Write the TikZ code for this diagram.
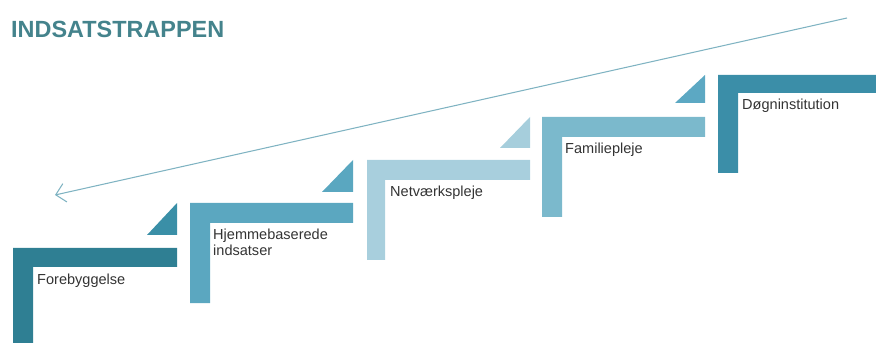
\documentclass[tikz,border=0pt]{standalone}
\usepackage{fontspec}
\setmainfont{Liberation Sans}
\usetikzlibrary{arrows.meta}

\definecolor{stepA}{HTML}{2F7F93}
\definecolor{stepB}{HTML}{5BA7C0}
\definecolor{stepC}{HTML}{A8CFDD}
\definecolor{stepD}{HTML}{7BB9CC}
\definecolor{stepE}{HTML}{3B8EA8}
\definecolor{triA}{HTML}{3A8FA7}
\definecolor{triB}{HTML}{5AA7C0}
\definecolor{triC}{HTML}{A6CEDC}
\definecolor{triD}{HTML}{5CA8C3}
\definecolor{titlecol}{HTML}{44838C}
\definecolor{arrowcol}{HTML}{7FB3C2}

\begin{document}
\begin{tikzpicture}[
  x=0.3mm, y=-0.3mm,
  steplabel/.style={anchor=north west, inner sep=0pt, align=left, text=black!80, font=\fontsize{12.4}{13.6}\selectfont},
  title/.style={anchor=west, inner sep=0pt, text=titlecol, font=\fontsize{20}{22}\selectfont\bfseries},
  trend/.style={-{Straight Barb[length=8pt, width=16pt]}, draw=arrowcol, line width=0.9pt}
]
\useasboundingbox (0,0) rectangle (876,343);

\node[title] (head) at (11,29) {INDSATSTRAPPEN};

% steps
\fill[stepA] (13,343) |- (177,248) -- (177,267) -- (33,267) -- (33,343) -- cycle;
\fill[triA] (147,235) -- (177,235) -- (177,203) -- cycle;

\fill[stepB] (190,303) |- (353,203) -- (353,223) -- (210,223) -- (210,303) -- cycle;
\fill[triB] (322,192) -- (353,192) -- (353,160) -- cycle;

\fill[stepC] (367,260) |- (530,160) -- (530,180) -- (385,180) -- (385,260) -- cycle;
\fill[triC] (500,148) -- (530,148) -- (530,117) -- cycle;

\fill[stepD] (542,217) |- (705,117) -- (705,137) -- (562,137) -- (562,217) -- cycle;
\fill[triD] (675,103) -- (705,103) -- (705,75) -- cycle;

\fill[stepE] (718,173) |- (876,75) -- (876,93) -- (738,93) -- (738,173) -- cycle;

% labels
\node[steplabel] (forebyg) at (37,274) {Forebyggelse};
\node[steplabel] (hjemme) at (213,229) {Hjemmebaserede\\indsatser};
\node[steplabel] (netvaerk) at (390,186) {Netværkspleje};
\node[steplabel] (familie) at (565,143) {Familiepleje};
\node[steplabel] (doegn) at (742,99) {Døgninstitution};

% arrow
\coordinate (top) at (847,18);
\coordinate (bottom) at (55,195);
\draw[trend] (top) -- (bottom);

\end{tikzpicture}
\end{document}
